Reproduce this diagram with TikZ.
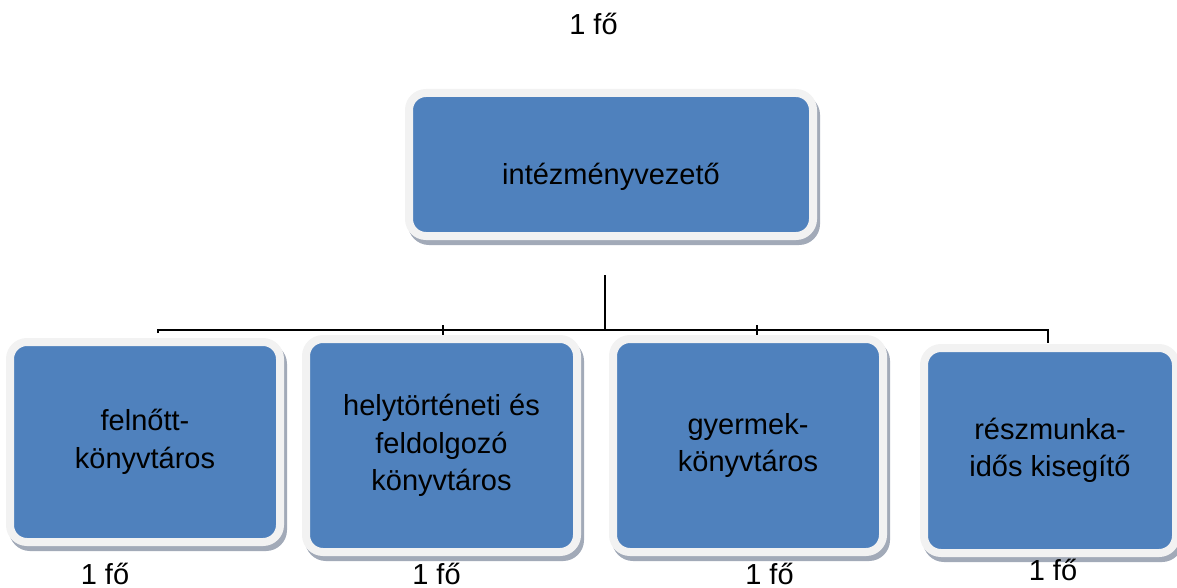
\documentclass[tikz,border=0pt]{standalone}
\usepackage{fontspec}
\setmainfont{Liberation Sans}
\usetikzlibrary{shadows}
\definecolor{boxblue}{HTML}{4F81BD}
\definecolor{framecol}{HTML}{F2F2F2}
\definecolor{shadecol}{HTML}{A2AAB8}
\tikzset{
  orgbox/.style={draw=framecol, line width=8pt, fill=boxblue, rounded corners=17pt,
    inner sep=0pt, outer sep=0pt, align=center,
    font=\fontsize{29}{37.5}\selectfont,
    general shadow={draw=shadecol, fill=shadecol, line width=8pt, shadow xshift=3pt, shadow yshift=-5pt}},
  countlbl/.style={anchor=base, inner sep=0pt, font=\fontsize{29}{35}\selectfont},
  conn/.style={line width=1.3pt, black},
  tick/.style={line width=1.3pt, black}
}
\begin{document}
\begin{tikzpicture}[x=1pt,y=-1pt]
\useasboundingbox (0,0) rectangle (1177,588);
% boxes
\node[orgbox, minimum width=404pt, minimum height=143pt, text height=40pt, text depth=0pt] (top) at (611,164.5) {intézményvezető};
\node[orgbox, minimum width=270pt, minimum height=200pt, yshift=-4pt] (b1) at (145,438) {felnőtt-\\könyvtáros};
\node[orgbox, minimum width=271pt, minimum height=213pt] (b2) at (441.5,445.5) {helytörténeti és\\feldolgozó\\könyvtáros};
\node[orgbox, minimum width=270pt, minimum height=213pt] (b3) at (748,445.5) {gyermek-\\könyvtáros};
\node[orgbox, minimum width=252pt, minimum height=205pt] (b4) at (1050,450.5) {részmunka-\\idős kisegítő};
% labels
\node[countlbl] (ltop) at (593.5,35) {1 fő};
\node[countlbl] (l1) at (105,584) {1 fő};
\node[countlbl] (l2) at (436.5,584) {1 fő};
\node[countlbl] (l3) at (769.5,584) {1 fő};
\node[countlbl] (l4) at (1053,580) {1 fő};
% connectors
\coordinate (stem) at (605,275);
\coordinate (hub) at (605,330);
\coordinate (c1) at (158,333);
\coordinate (c1h) at (158,330);
\coordinate (c4h) at (1048,330);
\coordinate (c4) at (1048,343);
\coordinate (t2a) at (443,325);
\coordinate (t2b) at (443,335);
\coordinate (t3a) at (757,325);
\coordinate (t3b) at (757,335);
\draw[conn] (stem) -- (hub);
\draw[conn] (c1) -- (c1h) -- (c4h) -- (c4);
\draw[tick] (t2a) -- (t2b);
\draw[tick] (t3a) -- (t3b);
\end{tikzpicture}
\end{document}
